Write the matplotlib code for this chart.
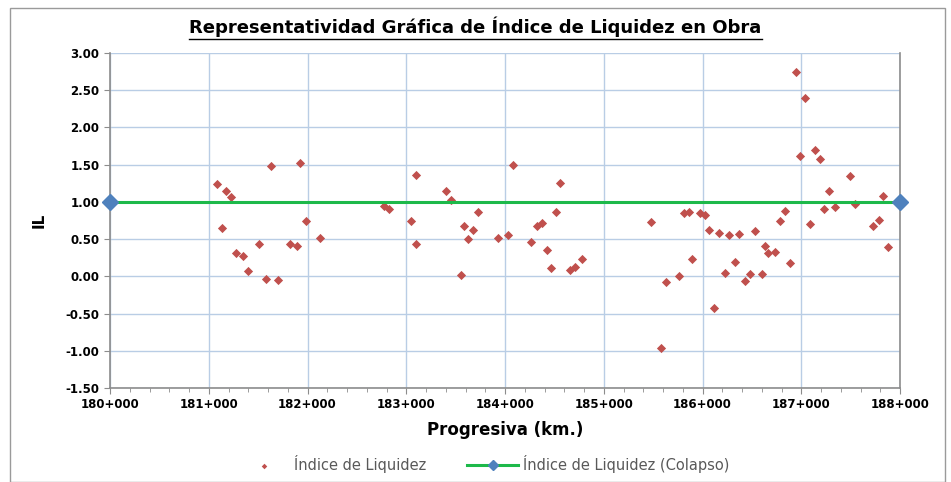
import matplotlib
matplotlib.use("Agg")
import matplotlib.pyplot as plt
from matplotlib.patches import Rectangle
from matplotlib.lines import Line2D
from matplotlib.ticker import MultipleLocator, FuncFormatter

# progresiva (km) y indice de liquidez
prog = [181.08, 181.13, 181.17, 181.22, 181.28, 181.35, 181.40, 181.51, 181.58, 181.63,
        181.70, 181.82, 181.89, 181.92, 181.98, 182.13,
        182.77, 182.83, 183.05, 183.10, 183.10, 183.40, 183.45, 183.55, 183.58, 183.63,
        183.68, 183.73, 183.93, 184.03, 184.08, 184.26, 184.32, 184.37, 184.42, 184.47,
        184.52, 184.56, 184.66, 184.71, 184.78,
        185.48, 185.58, 185.63, 185.76, 185.81, 185.86, 185.89, 185.97, 186.03, 186.07,
        186.12, 186.17, 186.23, 186.27, 186.33, 186.37, 186.43, 186.48, 186.53, 186.60,
        186.63, 186.66, 186.73, 186.78, 186.84, 186.89, 186.95, 186.99, 187.04, 187.09,
        187.14, 187.19, 187.23, 187.28, 187.34, 187.49, 187.54, 187.73, 187.79, 187.83,
        187.88]
il = [1.24, 0.65, 1.14, 1.07, 0.32, 0.27, 0.07, 0.44, -0.03, 1.48,
      -0.05, 0.43, 0.41, 1.52, 0.74, 0.51,
      0.95, 0.91, 0.74, 1.36, 0.44, 1.14, 1.02, 0.02, 0.68, 0.50,
      0.62, 0.86, 0.51, 0.56, 1.50, 0.46, 0.67, 0.72, 0.35, 0.11,
      0.86, 1.25, 0.08, 0.13, 0.23,
      0.73, -0.96, -0.07, 0.00, 0.85, 0.87, 0.23, 0.85, 0.82, 0.62,
      -0.42, 0.58, 0.04, 0.55, 0.19, 0.57, -0.06, 0.03, 0.61, 0.03,
      0.41, 0.31, 0.33, 0.75, 0.88, 0.18, 2.74, 1.62, 2.40, 0.70,
      1.70, 1.58, 0.90, 1.15, 0.93, 1.35, 0.97, 0.67, 0.76, 1.08,
      0.39]

colapso_x = [180, 188]
colapso_y = [1.0, 1.0]

fig = plt.figure(figsize=(9.51, 4.82), dpi=100)
ax = fig.add_axes([0.1157, 0.195, 0.8307, 0.695])

# marco exterior del grafico
fig.patches.append(Rectangle((10/951, 0.0), 935/951, 1 - 8/482, transform=fig.transFigure,
                             fill=False, edgecolor="#9a9a9a", lw=1))

ax.scatter(prog, il, marker="D", s=22, color="#c0504d", zorder=3, label="Índice de Liquidez",
           linewidths=0)
ax.plot(colapso_x, colapso_y, color="#1db94a", lw=2.2, marker="D", ms=8,
        mfc="#4f81bd", mec="#4f81bd", zorder=4, clip_on=False,
        label="Índice de Liquidez (Colapso)")

ax.set_xlim(180, 188)
ax.set_ylim(-1.5, 3.0)
ax.xaxis.set_major_locator(MultipleLocator(1))
ax.xaxis.set_minor_locator(MultipleLocator(0.2))
ax.yaxis.set_major_locator(MultipleLocator(0.5))
ax.xaxis.set_major_formatter(FuncFormatter(lambda v, p: f"{int(round(v))}+000"))
ax.yaxis.set_major_formatter(FuncFormatter(lambda v, p: f"{v:.2f}"))
ax.grid(True, which="major", color="#b9cde5", lw=1)
ax.set_axisbelow(True)

ax.spines["top"].set_visible(False)
for s in ["left", "bottom", "right"]:
    ax.spines[s].set_color("#8c8c8c")
    ax.spines[s].set_linewidth(1.2)

ax.tick_params(axis="both", which="major", labelsize=8.5, length=4, color="#8c8c8c")
ax.tick_params(axis="x", which="minor", length=3, color="#8c8c8c")
for lab in ax.get_xticklabels() + ax.get_yticklabels():
    lab.set_fontweight("bold")

ax.set_xlabel("Progresiva (km.)", fontsize=12, fontweight="bold", labelpad=7)
ax.set_ylabel("IL", fontsize=11, fontweight="bold", labelpad=14)

title = fig.text(0.5, 1 - 27/482, "Representatividad Gráfica de Índice de Liquidez en Obra",
                 ha="center", va="center", fontsize=13, fontweight="bold")
fig.canvas.draw()
bb = title.get_window_extent(fig.canvas.get_renderer()).transformed(fig.transFigure.inverted())
fig.lines.append(Line2D([bb.x0, bb.x1], [bb.y0 - 0.004, bb.y0 - 0.004], transform=fig.transFigure,
                        color="black", lw=1))

leg = fig.legend(loc="center", bbox_to_anchor=(0.509, 1 - 464/482), ncol=2, frameon=False,
                 fontsize=10.5, markerscale=0.6, columnspacing=2.8, handlelength=3.5,
                 handletextpad=0.3)
for t in leg.get_texts():
    t.set_color("#595959")

fig.savefig("out.png", dpi=100)
